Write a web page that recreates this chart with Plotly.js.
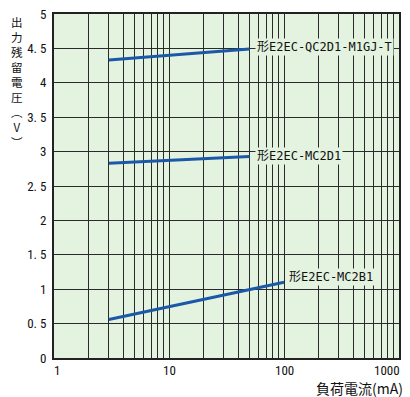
<!DOCTYPE html>
<html><head><meta charset="utf-8">
<script src="https://cdn.plot.ly/plotly-3.0.1.min.js"></script>
<style>html,body{margin:0;padding:0;background:#fff}</style>
</head><body><div id="chart" style="width:410px;height:397px"></div>
<script>
// Data
const seriesNames = ["形E2EC-QC2D1-M1GJ-T", "形E2EC-MC2D1", "形E2EC-MC2B1"];
const currentQC2D1 = [3, 50];
const voltageQC2D1 = [4.33, 4.49];
const currentMC2D1 = [3, 50];
const voltageMC2D1 = [2.83, 2.93];
const currentMC2B1 = [3, 100];
const voltageMC2B1 = [0.56, 1.10];
const xTickVals = [1,2,3,4,5,6,7,8,9,10,20,30,40,50,60,70,80,90,100,200,300,400,500,600,700,800,900,1000];
const xTickLabelVals = [1, 10, 100, 1000];
const xTickLabelText = ["1", "10", "100", "1000"];
const yTickVals = [0,0.5,1,1.5,2,2.5,3,3.5,4,4.5,5];
const yTickText = ["0","0. 5","1","1. 5","2","2. 5","3","3. 5","4","4. 5","5"];
const yTitleChars = ["出","力","残","留","電","圧","︵","V","︶"];
const xTitle = "負荷電流(mA)";

const W=410,H=397,M={l:54,r:11,t:14,b:39};
const plotH=H-M.t-M.b, plotW=W-M.l-M.r;
const bg="#e3f3df", lineCol="#1c58a8", gridCol="#2a2a2a";
const numFont="Liberation Sans Narrow, Roboto Condensed, Liberation Sans, sans-serif";
const labFont="DejaVu Sans Mono, Noto Sans CJK JP, monospace";
const cjk="Noto Sans CJK JP, sans-serif";

const xs=[currentQC2D1,currentMC2D1,currentMC2B1];
const ys=[voltageQC2D1,voltageMC2D1,voltageMC2B1];
const traces=xs.map((x,i)=>({x:x,y:ys[i],type:"scatter",mode:"lines",name:seriesNames[i],
  line:{color:lineCol,width:3},hoverinfo:"skip"}));

const shifts=[[6,2],[6,0],[3,5]];
const annotations=seriesNames.map((n,i)=>({
  x:Math.log10(xs[i][xs[i].length-1]), y:ys[i][ys[i].length-1], xref:"x", yref:"y",
  text:n, showarrow:false, xanchor:"left", yanchor:"middle",
  xshift:shifts[i][0], yshift:shifts[i][1], bgcolor:bg, borderpad:1,
  font:{family:labFont,size:12,color:"#111"}}));
// x tick labels (decades) as annotations so the last one stays inside the page
xTickLabelVals.forEach((v,i)=>{
  const last=i===xTickLabelVals.length-1, first=i===0;
  annotations.push({x:Math.log10(v),xref:"x",yref:"paper",y:0,yshift:-12,
    text:xTickLabelText[i],showarrow:false,yanchor:"middle",
    xanchor:last?"right":"center",xshift:last?3:(first?3:0),
    font:{family:numFont,size:13,color:"#111"}});
});
annotations.push({xref:"paper",yref:"paper",x:(17-M.l)/plotW,y:(H-M.b-12)/plotH,
  text:yTitleChars.join("<br>"),showarrow:false,xanchor:"center",yanchor:"top",
  font:{family:cjk,size:11.5,color:"#111"}});
annotations.push({xref:"paper",yref:"paper",x:(405-M.l)/plotW,y:(H-M.b-388)/plotH,
  text:xTitle,showarrow:false,xanchor:"right",yanchor:"middle",
  font:{family:cjk,size:14,color:"#111"}});

const layout={
  width:W,height:H,margin:M,paper_bgcolor:"#fff",plot_bgcolor:bg,showlegend:false,
  xaxis:{type:"log",range:[0,3],tickmode:"array",tickvals:xTickVals,
    ticktext:xTickVals.map(()=>""),showgrid:true,gridcolor:gridCol,gridwidth:1,
    zeroline:false,showline:true,linecolor:"#222",linewidth:2,mirror:true,ticks:""},
  yaxis:{range:[0,5],tickmode:"array",tickvals:yTickVals,ticktext:yTickText,
    showgrid:true,gridcolor:gridCol,gridwidth:1,zeroline:false,showline:true,linecolor:"#222",
    linewidth:2,mirror:true,ticks:"",ticklabelstandoff:3,
    tickfont:{family:numFont,size:13,color:"#111"}},
  annotations:annotations
};
Plotly.newPlot("chart",traces,layout,{staticPlot:true,displayModeBar:false});
</script></body></html>
